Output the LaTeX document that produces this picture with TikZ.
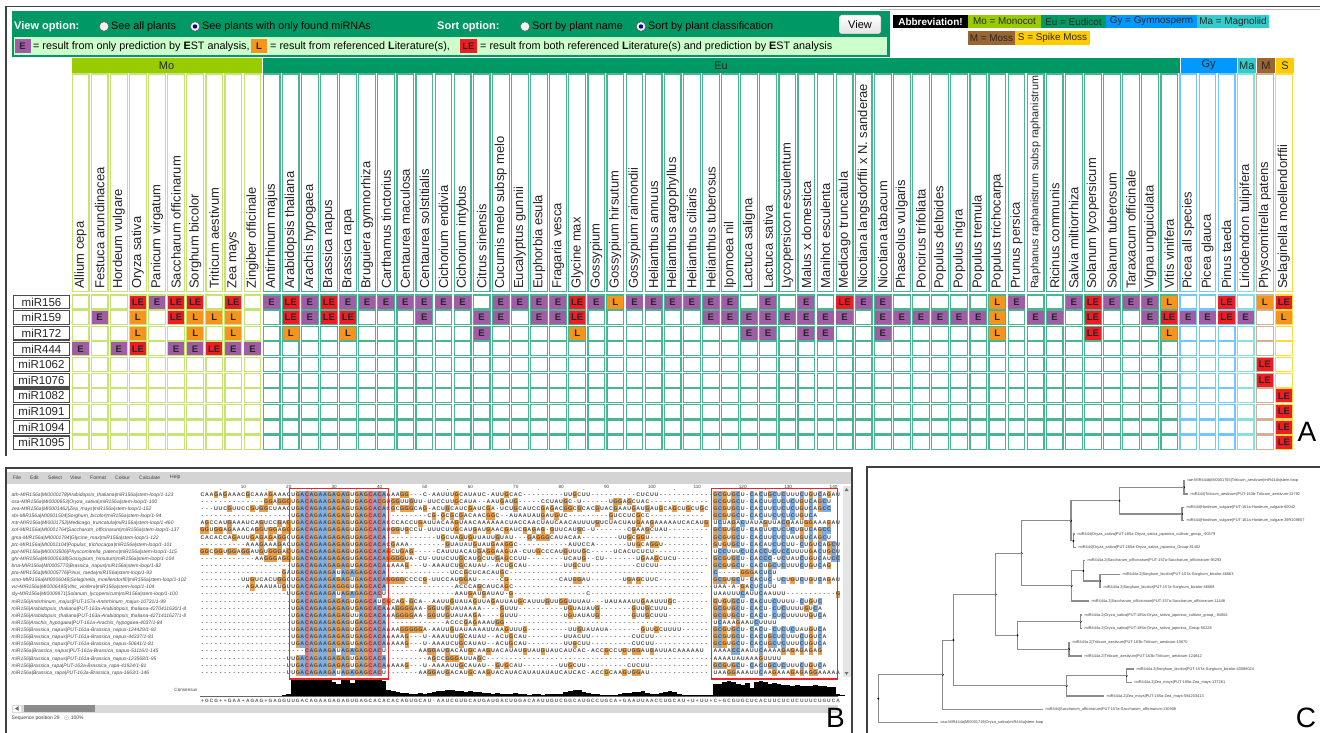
\documentclass[tikz,border=0pt]{standalone}
\usepackage{fontspec}
\setmainfont{Liberation Sans}
\definecolor{MoC}{HTML}{99CC00}
\definecolor{EuC}{HTML}{009966}
\definecolor{GyC}{HTML}{0099FF}
\definecolor{MaC}{HTML}{33CCCC}
\definecolor{MC}{HTML}{996633}
\definecolor{SC}{HTML}{FFCC00}
\colorlet{MoB}{MoC!55!white}
\colorlet{EuB}{EuC!72!white}
\colorlet{GyB}{GyC!55!white}
\colorlet{MaB}{MaC!60!white}
\colorlet{MB}{MC!50!white}
\colorlet{SB}{SC!75!white}
\definecolor{Ecol}{HTML}{A05DA5}
\definecolor{Lcol}{HTML}{F7941D}
\definecolor{LEcol}{HTML}{EE1C25}
\definecolor{hdrG}{HTML}{009966}
\definecolor{lgtG}{HTML}{CCFFCC}
\definecolor{seqO}{HTML}{E8A050}
\definecolor{seqB}{HTML}{7FAEE3}
\definecolor{seqR}{HTML}{E07B7B}
\definecolor{boxR}{HTML}{E8262B}
\definecolor{frameC}{HTML}{404040}

\newcommand\seqcell[2]{\ifx\relax#1\relax\makebox[4.54pt]{#2}\else\rlap{\textcolor{#1}{\rule[-1.9pt]{4.54pt}{7.12pt}}}\makebox[4.54pt]{#2}\fi}
\newcommand\setgrp[1]{\ifnum#1<10 \def\bc{MoB}\else\ifnum#1<58 \def\bc{EuB}\else\ifnum#1<61 \def\bc{GyB}\else\ifnum#1=61 \def\bc{MaB}\else\ifnum#1=62 \def\bc{MB}\else\def\bc{SB}\fi\fi\fi\fi\fi}

\ExplSyntaxOn
\int_new:N \l_my_c_int
\cs_new_protected:Npn \my_seqchar:nn #1#2
 {
   \int_case:nnF {#1}
    {
      {1} { \str_case:nnF {#2} { {A}{\seqcell{seqB}{#2}} {G}{\seqcell{seqO}{#2}} {C}{\seqcell{seqR}{#2}} } {\seqcell{}{#2}} }
      {2} { \str_case:nnF {#2} { {C}{\seqcell{seqB}{#2}} {G}{\seqcell{seqO}{#2}} } {\seqcell{}{#2}} }
      {0} { \str_if_eq:nnTF {#2}{G} {\seqcell{seqO}{#2}} {\seqcell{}{#2}} }
    }
    { \seqcell{}{#2} }
 }
\NewDocumentCommand\seqseg{mm}{ \tl_map_inline:nn {#2} { \my_seqchar:nn {#1} {##1} } }
\NewDocumentCommand\forchars{mmm}
 {
   \int_zero:N \l_my_c_int
   \tl_map_inline:nn {#3} { \exp_args:NnV #1 {#2} \l_my_c_int {##1} \int_incr:N \l_my_c_int }
 }
\ExplSyntaxOff

\newcommand\cellA[3]{%
  \setgrp{#2}%
  \pgfmathsetmacro\cxa{71+19.1*#2}%
  \pgfmathsetmacro\cya{295+15.63*#1}%
  \draw[cellbox,draw=\bc] (\cxa+1.2,\cya) rectangle ++(16.7,14);%
  \if#3E\node[mk,fill=Ecol] (m#1x#2) at (\cxa+9.55,\cya+7) {E};\fi
  \if#3L\node[mk,fill=Lcol] (m#1x#2) at (\cxa+9.55,\cya+7) {L};\fi
  \if#3X\node[mk,fill=LEcol] (m#1x#2) at (\cxa+9.55,\cya+7) {LE};\fi
}

\newcommand\seqline[5]{%
  \pgfmathsetmacro\by{496.3+7.12*(#1-1)}%
  \node[seqtxt,anchor=base east] (sp#1) at (291.03,\by) {\seqseg{0}{#2}};
  \node[seqtxt,anchor=base west] (sa#1) at (291.03,\by) {\seqseg{1}{#3}};
  \node[seqtxt,anchor=base west] (sr#1) at (386.37,\by) {\seqseg{0}{#4}};
  \node[seqtxt,anchor=base west] (sb#1) at (713.25,\by) {\seqseg{2}{#5}};
}
\newcommand\clade[3]{\draw[treeln] (#2) -| (#1) |- (#3); \fill[black] (#1) circle (1.1pt);}

\begin{document}
\begin{tikzpicture}[x=1pt,y=-1pt,
  cellbox/.style={line width=1.2pt},
  mk/.style={rectangle,inner sep=0pt,minimum width=16.2pt,minimum height=13pt,font=\fontsize{9.5}{10}\selectfont\bfseries,text=black!85},
  colname/.style={rotate=90,anchor=west,inner sep=0pt,font=\fontsize{13}{14}\selectfont,text=black!85},
  rowlab/.style={draw=black!70,line width=1.2pt,fill=white,minimum width=56pt,minimum height=13.5pt,inner sep=0pt,font=\fontsize{11.5}{12}\selectfont,text=black!85},
  grp/.style={inner sep=0pt,minimum height=14.5pt,font=\fontsize{11}{12}\selectfont,text=black!85},
  htxt/.style={anchor=west,inner sep=0pt,font=\fontsize{10.8}{12}\selectfont},
  radio/.style={circle,draw=gray!70!black,fill=gray!12,line width=0.6pt,minimum size=9.6pt,inner sep=0pt},
  abb/.style={inner sep=0pt,minimum height=13.5pt,font=\fontsize{9.9}{12}\selectfont,text=black!85},
  lmk/.style={rectangle,inner sep=0pt,minimum width=16pt,minimum height=14pt,font=\fontsize{9.5}{10}\selectfont\bfseries,text=black!85},
  seqtxt/.style={inner sep=0pt,outer sep=0pt,font=\fontsize{5.3}{6}\selectfont\bfseries,text=black!72},
  seqname/.style={anchor=base west,inner sep=0pt,font=\fontsize{5}{6}\selectfont\itshape,text=black!72},
  tiny/.style={inner sep=0pt,font=\fontsize{5}{6}\selectfont,text=black!75},
  leaf/.style={anchor=west,inner sep=0pt,font=\fontsize{3.9}{4.5}\selectfont,text=black!75},
  treeln/.style={draw=black!45,line width=1.1pt},
  frame/.style={draw=frameC,line width=1.8pt},
  big/.style={inner sep=0pt,font=\fontsize{28}{30}\selectfont}]
\useasboundingbox (0,0) rectangle (1320,733);
\fill[white] (0,0) rectangle (1320,733);

% ================= PANEL A =================
\draw[frame] (5,6.5) -- (1320,6.5);
\draw[frame] (6,6) -- (6,456);
\draw[black!25,line width=0.8pt] (880,9) -- (1320,9);
% header box
\fill[hdrG] (12,11) rectangle (890,57);
\fill[lgtG] (14,37.5) rectangle (887,55);
\node[htxt,text=white,font=\fontsize{11}{12}\selectfont\bfseries] (vo) at (14,26.5) {View option:};
\node[radio] (rb1) at (104,26.5) {};
\node[htxt] (t1) at (111,26.5) {See all plants};
\node[radio] (rb2) at (195,26.5) {};
\fill[blue!55!black] (rb2) circle (2.2pt);
\node[htxt] (t2) at (202,26.5) {See plants with only found miRNAs};
\node[htxt,text=white,font=\fontsize{11}{12}\selectfont\bfseries] (so) at (437,26.5) {Sort option:};
\node[radio] (rb3) at (525,26.5) {};
\node[htxt] (t3) at (532,26.5) {Sort by plant name};
\node[radio] (rb4) at (641,26.5) {};
\fill[blue!55!black] (rb4) circle (2.2pt);
\node[htxt] (t4) at (648,26.5) {Sort by plant classification};
\node[draw=gray!65!black,rounded corners=2pt,top color=white,bottom color=gray!22,minimum width=42pt,minimum height=19pt,inner sep=0pt,font=\fontsize{11}{12}\selectfont] (vbtn) at (860,24.5) {View};
% legend row
\node[lmk,fill=Ecol] (lgE) at (22.5,46.3) {E};
\node[htxt] (lg1) at (33,46.3) {= result from only prediction by \textbf{E}ST analysis,};
\node[lmk,fill=Lcol] (lgL) at (259,46.3) {L};
\node[htxt] (lg2) at (270,46.3) {= result from referenced \textbf{L}iterature(s),};
\node[lmk,fill=LEcol,minimum width=17pt] (lgLE) at (468.5,46.3) {LE};
\node[htxt] (lg3) at (480,46.3) {= result from both referenced \textbf{L}iterature(s) and prediction by \textbf{E}ST analysis};
% abbreviation legend
\node[abb,fill=black,text=white,minimum width=75pt,font=\fontsize{10}{12}\selectfont\bfseries] (ab0) at (930.5,21.5) {Abbreviation!};
\node[abb,fill=MoC,minimum width=73pt] (ab1) at (1004.5,21.5) {Mo = Monocot};
\node[abb,fill=EuC,minimum width=65pt] (ab2) at (1073.5,21.5) {Eu = Eudicot};
\node[abb,fill=GyC,minimum width=91pt] (ab3) at (1151.5,21.5) {Gy = Gymnosperm};
\node[abb,fill=MaC,minimum width=72pt] (ab4) at (1233,21.5) {Ma = Magnoliid};
\node[abb,fill=MC,minimum width=47pt] (ab5) at (991.5,38) {M = Moss};
\node[abb,fill=SC,minimum width=75pt] (ab6) at (1052.5,38) {S = Spike Moss};
% group bars
\node[grp,fill=MoC,minimum width=190pt] (gMo) at (166.5,65.3) {Mo};
\node[grp,fill=EuC,minimum width=917pt] (gEu) at (721,65.3) {Eu};
\node[grp,fill=GyC,minimum width=56pt] (gGy) at (1208.7,65.3) {Gy};
\node[grp,fill=MaC,minimum width=18pt] (gMa) at (1246.8,65.3) {Ma};
\node[grp,fill=MC,minimum width=18pt] (gM) at (1265.9,65.3) {M};
\node[grp,fill=SC,minimum width=18pt] (gS) at (1285,65.3) {S};
% column headers
\foreach \nm [count=\c from 0] in {Allium cepa,Festuca arundinacea,Hordeum vulgare,Oryza sativa,Panicum virgatum,Saccharum officinarum,Sorghum bicolor,Triticum aestivum,Zea mays,Zingiber officinale,Antirrhinum majus,Arabidopsis thaliana,Arachis hypogaea,Brassica napus,Brassica rapa,Bruguiera gymnorhiza,Carthamus tinctorius,Centaurea maculosa,Centaurea solstitialis,Cichorium endivia,Cichorium intybus,Citrus sinensis,Cucumis melo subsp melo,Eucalyptus gunnii,Euphorbia esula,Fragaria vesca,Glycine max,Gossypium,Gossypium hirsutum,Gossypium raimondii,Helianthus annuus,Helianthus argophyllus,Helianthus ciliaris,Helianthus tuberosus,Ipomoea nil,Lactuca saligna,Lactuca sativa,Lycopersicon esculentum,Malus x domestica,Manihot esculenta,Medicago truncatula,Nicotiana langsdorffii x N. sanderae,Nicotiana tabacum,Phaseolus vulgaris,Poncirus trifoliata,Populus deltoides,Populus nigra,Populus tremula,Populus trichocarpa,Prunus persica,{\fontsize{10.8}{12}\selectfont Raphanus raphanistrum subsp raphanistrum},Ricinus communis,Salvia miltiorrhiza,Solanum lycopersicum,Solanum tuberosum,Taraxacum officinale,Vigna unguiculata,Vitis vinifera,Picea all species,Picea glauca,Pinus taeda,Liriodendron tulipifera,Physcomitrella patens,Selaginella moellendorffii}{
  \setgrp{\c}
  \draw[cellbox,draw=\bc] (71+19.1*\c+1.2,74) rectangle ++(16.7,217.5);
  \node[colname] (cn\c) at (71+19.1*\c+9.55,289) {\nm};
}
% row labels
\foreach \lab [count=\r from 0] in {miR156,miR159,miR172,miR444,miR1062,miR1076,miR1082,miR1091,miR1094,miR1095}{
  \node[rowlab] (rl\r) at (41.5,295+15.63*\r+7) {\lab};
}
% data cells
\forchars{\cellA}{0}{...XEXX.X. EXEXEEEEEE E.EEEEXELE EEEEE.E.E. XEE.....LE ..EXEEEL.. X.LX}
\forchars{\cellA}{1}{.E.L.XLLL. .XEXX...E. .EE.EEX... ...EEEEEEE E.EEEEEEL. EE.X..EXEE XE.L}
\forchars{\cellA}{2}{...L..L.L. .L..L..... .E....L... .....EE.EE ..E.....L. ...X...L.. ....}
\forchars{\cellA}{3}{E.EX.EEXEE .......... .......... .......... .......... .......... ....}
\forchars{\cellA}{4}{.......... .......... .......... .......... .......... .......... ..X.}
\forchars{\cellA}{5}{.......... .......... .......... .......... .......... .......... ..X.}
\forchars{\cellA}{6}{.......... .......... .......... .......... .......... .......... ...X}
\forchars{\cellA}{7}{.......... .......... .......... .......... .......... .......... ...X}
\forchars{\cellA}{8}{.......... .......... .......... .......... .......... .......... ...X}
\forchars{\cellA}{9}{.......... .......... .......... .......... .......... .......... ...X}
\node[big] (lA) at (1307,432) {A};

% ================= PANEL B =================
\draw[frame] (6,733) -- (6,468) -- (852,468) -- (852,733);
\fill[black!17] (7,471.5) rectangle (851,483.5);
\foreach \mi/\mx [count=\k] in {File/13,Edit/30,Select/48,View/70,Format/90,Colour/115,Calculate/139,Help/170}{
  \node[tiny,anchor=west] (menu\k) at (\mx,477.5) {\mi};
}
\foreach \k in {10,20,...,140}{
  \node[tiny,font=\fontsize{4.6}{5}\selectfont] (rn\k) at ({202.5+4.54*(\k-1)},486.5) {\k};
}
\foreach \k in {5,15,...,135}{ \fill[black!55] ({202.5+4.54*(\k-1)},489.5) circle (0.45pt); }
\foreach \nm [count=\k] in {
ath-MIR156a|MI0000178|Arabidopsis\_thaliana|miR156a|stem-loop/1-123,
osa-MIR156a|MI0000653|Oryza\_sativa|miR156a|stem-loop/1-100,
zea-MIR156a|MI0001462|Zea\_mays|miR156a|stem-loop/1-152,
sbi-MIR156a|MI0001504|Sorghum\_bicolor|miR156a|stem-loop/1-94,
mtr-MIR156a|MI0001752|Medicago\_truncatula|miR156a|stem-loop/1-460,
sof-MIR156a|MI0001764|Saccharum\_officinarum|miR156a|stem-loop/1-137,
gma-MIR156a|MI0001794|Glycine\_max|miR156a|stem-loop/1-122,
ptc-MIR156a|MI0002104|Populus\_trichocarpa|miR156a|stem-loop/1-101,
ppt-MIR156a|MI0003506|Physcomitrella\_patens|miR156a|stem-loop/1-115,
ghr-MIR156a|MI0005638|Gossypium\_hirsutum|miR156a|stem-loop/1-104,
bna-MIR156a|MI0005770|Brassica\_napus|miR156a|stem-loop/1-82,
pta-MIR156a|MI0005776|Pinus\_taeda|miR156a|stem-loop/1-93,
smo-MIR156a|MI0006046|Selaginella\_moellendorffii|miR156a|stem-loop/1-102,
vvi-MIR156a|MI0006495|Vitis\_vinifera|miR156a|stem-loop/1-104,
sly-MIR156a|MI0009971|Solanum\_lycopersicum|miR156a|stem-loop/1-100,
miR156|Antirrhinum\_majus|PUT-157a-Antirrhinum\_majus-10731/1-99,
miR156|Arabidopsis\_thaliana|PUT-163a-Arabidopsis\_thaliana-4270411630/1-8,
miR156|Arabidopsis\_thaliana|PUT-163a-Arabidopsis\_thaliana-4271411627/1-8,
miR156|Arachis\_hypogaea|PUT-161a-Arachis\_hypogaea-4037/1-84,
miR156|Brassica\_napus|PUT-161a-Brassica\_napus-124429/1-92,
miR156|Brassica\_napus|PUT-161a-Brassica\_napus-44337/1-81,
miR156|Brassica\_napus|PUT-161a-Brassica\_napus-50641/1-81,
miR156a|Brassica\_napus|PUT-161a-Brassica\_napus-51116/1-145,
miR156|Brassica\_napus|PUT-161a-Brassica\_napus-123568/1-95,
miR156|Brassica\_rapa|PUT-163a-Brassica\_rapa-41924/1-81,
miR156a|Brassica\_rapa|PUT-163a-Brassica\_rapa-1663/1-146}{
  \node[seqname] (sn\k) at (11.5,{496.3+7.12*(\k-1)}) {\nm};
}
\seqline{1}{CAAGAGAAACGCAAAGAAAC}{UGACAGAAGAGAGUGAGCACA}{AAAGG---C-AAUUUGCAUAUC-AUUGCAC---------UUGCUU----------CUCUU------------}{GCGUGCU-CACUGCUCUUUCUGUCAGAU}
\seqline{2}{--------------GGAGGG}{UGACAGAAGAGAGUGAGCACG}{UGGUUGUU-UUCCUUGCAUA--AAUGAUG-----CCUAUGC-U------UGGAGCUAC-------------}{GCGUGCU-CACUUCUCUCUGUCAGCU}
\seqline{3}{---UUCGUUCCGUGGCUAAC}{UGACAGAAGAGAGUGAGCACA}{CGCGGGCAG-ACUGCAUCGAUCGA-UCUGCAUCCGAGACGGCGCACGUACGAAUGAUGAUGCAGCUGCUGC}{GCGUGCU-CACUUCUCUCUGUCAGCC}
\seqline{4}{--------------------}{UGACAGAAGAGAGUGAGCACA}{---------CG-GCGCGACAACGGC--AUAAUAUGAUGUC---------GUCCUCGCC------------}{GCGUGCU-CACUUCUCUCUGUCA}
\seqline{5}{AGCCAUGAAAUCAGUCCGAG}{UGACAGAAGAGAGUGAGCACA}{CCCACCUGAUUACAAGUAACAAAAAACUACCAACUAUCAACAUUUUGUCUACUAUGAAGAAAAAUCACAUG}{UCUAGACUAUAGUUACGAAUGGAAAGAU}
\seqline{6}{GGUGGAGAAACAGGUGGAGG}{UGACAGAAGAGAGUGAGCACA}{UGGUGCCU-UUUCUUGCAUGAUGAACGAUCGAGAG-GUUCAUGC-U-------CGAAGCUAU---------}{GCGUGCU-CACUUCUCUCUGUCAGCC}
\seqline{7}{CACACCAGAUUGAGAGAGGC}{UGACAGAAGAGAGUGAGCACA}{-----------UGCUAGUGUUAUUGUAU---GAGGGCAUACAA--------UUGCGGU------------}{GCGUGCU-CACUUCUCUAUGUCAGCU}
\seqline{8}{----------AAAGAAAGAC}{UGACAGAAGAGAGUGAGCACA}{CGAAA--------GUAUAUGUAUGAAGGC-----------AUUCCA-------UUGCAGGU----------}{GUGUGCU-CACAUCUCUU-CUGUCAGCU}
\seqline{9}{GGCGGUGGAGGAUGUGGGAG}{UGACAGAAGAGAGUGAGCACA}{GCUGAG-----CAUUUACAUGAGGAAGUA-CUUGCCCAUGUUUGC-----UCACUCUCU-----------}{UCCUUUCUCACCUCUCCUUUUGACUGCU}
\seqline{10}{------------AAGGGAGG}{UGACAGAAGAGAGUGAGCACA}{GGGGUA-CU-UUUCUUGCAUGCUUGAGCCUU--------UCAUG--CU-------UGAAGCUCU-------}{GCGUGCU-CACCC-UCUAUCUGUCAUCC}
\seqline{11}{--------------------}{UGACAGAAGAGAGUGAGCACA}{AAAAG---U-AAAUCUGCAUAU--ACUGCAU--------UUGCUU----------CUCUU-----------}{GCGUGCU-CACUGCUCUUUCUGUCAG}
\seqline{12}{------------------GA}{UGACAGAAGAUAGAGAGCACA}{--------------UCCGCUCACAUGC-------------------------------------------}{C-----GGGACUCU}
\seqline{13}{---------UUGUCACUGGC}{UGACAGAAGAGAGUGAGCACA}{GGGGCCCCG-UUCCAUGGAU-----CG-----------CAUGGAU-------UGAGCUUC---------}{GCGUGCU-CACUC-UCUGUCUGUCAGAU}
\seqline{14}{----------AGAAAUAUGU}{UGACAGAAGAGGGUGAGCACA}{---------------ACCCAGCAUCAGC--------------------------------------------}{UAA-A-GACUCUUU}
\seqline{15}{-------------------U}{UGACAGAAGAUAGAGAGCACU}{---------------AAUGAUGAUAU-G----------------C-------------------------}{UAAUUUCAUUCAAUUU-----------G}
\seqline{16}{--------------------}{UGACAGAAGAGAGUGAGCAUC}{GCAG-GCA--AAUUGUAUAGUUAGAUUAUGCAUUUGUUGGUUUAU---UAUAAAUUGAAUUUGC-------}{GUGUGCU-CACUUCUUUU-CUGUC}
\seqline{17}{--------------------}{UGACAGAAGAGAGUGAGCACA}{AAGGGGAA-GGUUGUAUAAAA----GUUU----------UGUAUAUG-------GUUGCUUU--------}{GCGUGCU-CACU-CUCUUUUGUCA}
\seqline{18}{--------------------}{UGACAGAAGAGAGUUAGCACA}{AAGGGGAA-GGUUGUAUAAGA----GUUU----------UGUAUAUG-------GUUGCUUU--------}{GCGUGCU-CACU-CUCUUUUUGUCA}
\seqline{19}{--------------------}{UGACAGAAGAGAGUGAGCACA}{-------------ACCCGAGAAAUGG---------------------------------------------}{UCAAAGAAUCUUUU}
\seqline{20}{--------------------}{UGACAGAAGAGAGUGAGCACA}{AAAGGGGGA-AAUUGUAUAAAAUUAAGUUUG---------UUGUAUAUA-------GUUGCUUUU------}{GCGUGCU-CACU-CUCUCUAUGUCA}
\seqline{21}{--------------------}{UGACAGAAGAGAGUGAGCACA}{AAAAG---U-AAAUUUGCAUAU--ACUGCAU--------UUACUU---------CUCUU------------}{GCGUGCU-CACUGCUCUUUCUGUCA}
\seqline{22}{--------------------}{UGACAGAAGAGAGUGAGCACA}{AAAAG---U-AAAUCUGCAUAU--ACUGCAU--------UUGCUU---------CUCUU------------}{GCGUGCU-CACUGCUCUUUCUGUCA}
\seqline{23}{--------------------}{---CAGAAGAUAGAGAGCACU}{-------AAGGAUGACAUGCAAGUACAUAUGUAUGUAUCAUCAC-ACCGCCUGUGGAUGAUUACAAAAAU}{AAAACCAAUUCAAAAGAGAGAGAG}
\seqline{24}{-------------------U}{UGACAGAAGAGAGUGAGCACA}{---------AGCCGGGAUUAGC--------------------------------------------------}{AAAAUAUAAAGUUUU}
\seqline{25}{-------------------U}{UGACAGAAGAGAGUGAGCACA}{AAAAG---U-AAAAUUGCAUAU--GUGCAU--------UUGCUU---------CUCUU-------------}{GCGUGCU-CACUGCUCUUUCUGUCA}
\seqline{26}{-------------------U}{UGACAGAAGAUAGAGAGCACU}{-------AAGGAUGACAUGCAAGUACAUACAUAUAUAUCAUCAC-ACCGCAAGUGGAU-------------}{UAAGGAAAUUCAAGAAAGAGAGGAAAAA}
% red boxes
\draw[boxR,line width=1.8pt] (289.5,488.5) rectangle (388.5,679);
\draw[boxR,line width=1.8pt] (711.5,488.5) rectangle (837.5,679);
% vertical scrollbar
\fill[black!10] (842.5,486) rectangle (850.5,677);
\fill[black!55] (846.5,488) -- (844.5,491) -- (848.5,491) -- cycle;
\fill[black!55] (846.5,675) -- (844.5,672) -- (848.5,672) -- cycle;
% consensus histogram
\node[tiny,font=\fontsize{4.6}{5}\selectfont] (consl) at (186,690) {Consensus};
\foreach \h [count=\p] in {0,0,0,0,0,0,0,0,0,0, 0,0,0,0,0,0,0,0,1,2, 16,16,16,16,16,16,16,16,16,14, 12,16,16,13,16,16,16,16,16,16, 15,6,5,4,3,3,2,2,3,2, 3,4,5,5,6,6,5,5,4,5, 4,4,3,3,2,3,2,2,2,3, 2,2,1,2,2,1,2,2,2,2, 4,5,6,6,4,3,2,2,1,1, 1,1,2,3,3,4,4,5,3,2, 2,3,4,5,4,2,1,1,1,1, 1,1,1,12,12,14,15,14,12,11, 13,8,14,15,14,12,13,12,11,11, 10,11,10,10,10,11,10,10,9,9, 2,1}{
  \fill[black] ({200.23+4.54*(\p-1)},696) rectangle ++(4.6,-\h);
}
\draw[black!60,line width=0.4pt] (200.23,696) -- (838,696);
\node[seqtxt,anchor=base west,font=\fontsize{4.8}{5}\selectfont\bfseries,text=black!65] (cons) at (200.23,702) {\seqseg{9}{+GCG++GAA+AGAG+GAGGUUGACAGAAGAGAGUGAGCACACACAGUGCAU-AAUCGUGCAUGAUGACUGGACAAUUGUCGGCAUGCCUGCA+GAAUUAACCUGCAU+U+UU+C+GCGUGCUCACUUCUCUCUUUCUGUCA}};
% horizontal scrollbar
\fill[black!15] (12,704.5) rectangle (838,712.5);
\fill[white] (13,705.5) rectangle (21,711.5);
\fill[black!60] (15,708.5) -- (18.5,706.2) -- (18.5,710.8) -- cycle;
\fill[black!45] (24,705.3) rectangle (95,711.7);
\node[tiny,anchor=west] (stat) at (11.5,718) {Sequence position 29 \ \ $\odot$ 100\%};
\node[big] (lB) at (835.5,717.5) {B};

% ================= PANEL C =================
\draw[frame] (867,733) -- (867,467) -- (1320,467);
\foreach \tx/\ty/\lab [count=\k] in {
1185/480.7/tae-MIR444b|MI0001765|Triticum\_aestivum|miR444b|stem-loop,
1188/494/miR444|Triticum\_aestivum|PUT-163b-Triticum\_aestivum-22792,
1184/507.3/miR444|Hordeum\_vulgare|PUT-161a-Hordeum\_vulgare-60042,
1184/520.7/miR444|Hordeum\_vulgare|PUT-161a-Hordeum\_vulgare-39R109807,
1075/534/miR444|Oryza\_sativa|PUT-185a-Oryza\_sativa\_japonica\_cultivar\_group\_-90379,
1076/547.7/miR444|Oryza\_sativa|PUT-185a-Oryza\_sativa\_japonica\_Group-81402,
1085/560.7/miR444a.2|Saccharum\_officinarum|PUT-157a-Saccharum\_officinarum-95293,
1120/574.3/miR444a.2|Sorghum\_bicolor|PUT-157a-Sorghum\_bicolor-46663,
1101/587.7/miR444a.2|Sorghum\_bicolor|PUT-157a-Sorghum\_bicolor-46668,
1089/601/miR444a.2|Saccharum\_officinarum|PUT-157a-Saccharum\_officinarum-11448,
1082/615/miR444a.2|Oryza\_sativa|PUT-185a-Oryza\_sativa\_japonica\_cultivar\_group\_-84064,
1082/628.3/miR444a.2|Oryza\_sativa|PUT-185a-Oryza\_sativa\_japonica\_Group-56228,
1070/642.3/miR444a.2|Triticum\_aestivum|PUT-163b-Triticum\_aestivum-10670,
1082/656/miR444a.2|Triticum\_aestivum|PUT-163b-Triticum\_aestivum-124842,
1134/669/miR444a.2|Sorghum\_bicolor|PUT-157a-Sorghum\_bicolor-40088024,
1132/682.7/miR444a.2|Zea\_mays|PUT-185a-Zea\_mays-137261,
1104/696/miR444a.2|Zea\_mays|PUT-185a-Zea\_mays-584203413,
1043/709.3/miR444|Saccharum\_officinarum|PUT-157a-Saccharum\_officinarum-130908,
938/722.7/osa-MIR444a|MI0001719|Oryza\_sativa|miR444a|stem-loop}{
  \coordinate (lf\k) at (\tx,\ty);
  \node[leaf] (lt\k) at (\tx+2.5,\ty) {\lab};
}
\coordinate (na) at (1184,487.35);
\coordinate (nb) at (1182,514);
\coordinate (nab) at (1119.3,500.7);
\coordinate (nc) at (1073.3,540.85);
\coordinate (nabc) at (1071,520.8);
\coordinate (ne) at (1100,581);
\coordinate (nd) at (1083.3,570.85);
\coordinate (nf) at (1071.7,585.9);
\coordinate (ng) at (1021.7,553.35);
\coordinate (nh) at (1080.7,621.65);
\coordinate (ni) at (1069,649.15);
\coordinate (nhi) at (1017.3,635.4);
\coordinate (ngh) at (995.7,594.4);
\coordinate (nj) at (1126.7,675.85);
\coordinate (nk) at (1066.7,685.9);
\coordinate (nl) at (953.3,640.15);
\coordinate (nm) at (942.7,674.7);
\coordinate (nroot) at (878.3,698.7);
\clade{na}{lf1}{lf2}
\clade{nb}{lf3}{lf4}
\clade{nab}{na}{nb}
\clade{nc}{lf5}{lf6}
\clade{nabc}{nab}{nc}
\clade{ne}{lf8}{lf9}
\clade{nd}{lf7}{ne}
\clade{nf}{nd}{lf10}
\clade{ng}{nabc}{nf}
\clade{nh}{lf11}{lf12}
\clade{ni}{lf13}{lf14}
\clade{nhi}{nh}{ni}
\clade{ngh}{ng}{nhi}
\clade{nj}{lf15}{lf16}
\clade{nk}{nj}{lf17}
\clade{nl}{ngh}{nk}
\clade{nm}{nl}{lf18}
\clade{nroot}{nm}{lf19}
\node[big] (lC) at (1306,718) {C};
\end{tikzpicture}
\end{document}
